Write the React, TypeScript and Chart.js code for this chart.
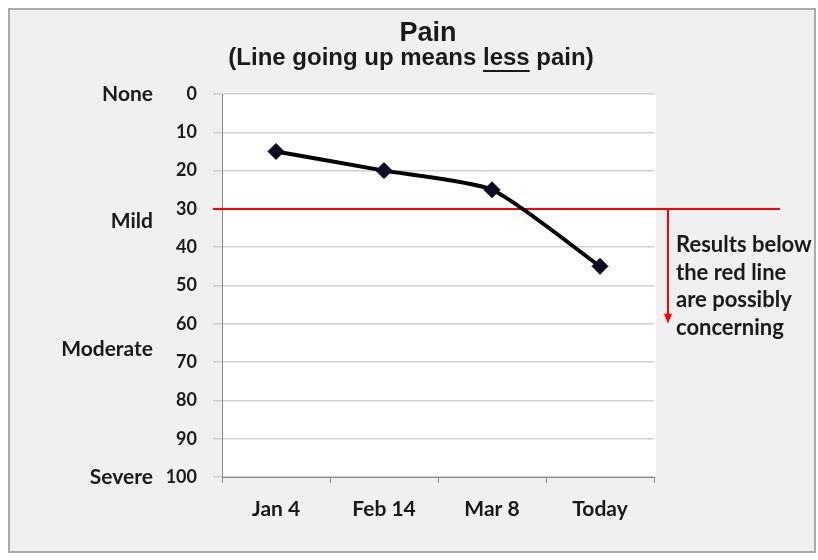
import React, { useEffect, useRef } from "react";
import { Chart, registerables } from "chart.js";

Chart.register(...registerables);

const CATEGORIES = ["Jan 4", "Feb 14", "Mar 8", "Today"];
const PAIN_SCORES = [15, 20, 25, 45];
const Y_MIN = 0;
const Y_MAX = 100;
const Y_STEP = 10;
const LEVEL_LABELS = ["None", "Mild", "Moderate", "Severe"];
const LEVEL_VALUES = [0, 33.3, 66.7, 100];
const THRESHOLD = 30;
const ARROW_END = 60;
const TITLE = "Pain";
const SUBTITLE_PARTS = ["(Line going up means ", "less", " pain)"];
const NOTE_LINES = ["Results below", "the red line", "are possibly", "concerning"];

const TEXT_COLOR = "#1a1a1a";
const AXIS_FONT = "Lato";
const TITLE_FONT = "Liberation Sans";

const overlayPlugin = {
  id: "overlay",
  beforeDraw(chart: any) {
    const { ctx, chartArea } = chart;
    ctx.save();
    ctx.fillStyle = "#ffffff";
    ctx.fillRect(chartArea.left, chartArea.top, chartArea.right - chartArea.left + 2, chartArea.bottom - chartArea.top);
    ctx.restore();
  },
  beforeDatasetsDraw(chart: any) {
    const { ctx, chartArea, scales } = chart;
    const y = scales.y;
    const yT = Math.round(y.getPixelForValue(THRESHOLD));
    const yA = y.getPixelForValue(ARROW_END);
    ctx.save();
    ctx.strokeStyle = "#ff0000";
    ctx.fillStyle = "#ff0000";
    ctx.lineWidth = 2;
    ctx.beginPath();
    ctx.moveTo(chartArea.left - 9, yT);
    ctx.lineTo(chartArea.right + 126, yT);
    ctx.stroke();
    const ax = chartArea.right + 14;
    ctx.beginPath();
    ctx.moveTo(ax, yT);
    ctx.lineTo(ax, yA - 8);
    ctx.stroke();
    ctx.beginPath();
    ctx.moveTo(ax - 4, yA - 10);
    ctx.lineTo(ax + 4, yA - 10);
    ctx.lineTo(ax, yA);
    ctx.closePath();
    ctx.fill();
    ctx.restore();
  },
  afterDraw(chart: any) {
    const { ctx, chartArea } = chart;
    ctx.save();
    ctx.fillStyle = TEXT_COLOR;
    ctx.textBaseline = "alphabetic";
    ctx.font = `bold 27px "${TITLE_FONT}"`;
    ctx.textAlign = "center";
    ctx.fillText(TITLE, 418, 31);
    ctx.font = `bold 24px "${TITLE_FONT}"`;
    ctx.textAlign = "left";
    const widths = SUBTITLE_PARTS.map((p) => ctx.measureText(p).width);
    const total = widths.reduce((a, b) => a + b, 0);
    let x = 401 - total / 2;
    SUBTITLE_PARTS.forEach((p, i) => {
      ctx.fillText(p, x, 55);
      if (i === 1) {
        ctx.fillRect(x, 60, widths[i], 2);
      }
      x += widths[i];
    });
    ctx.font = `bold 22px "${AXIS_FONT}"`;
    const nx = chartArea.right + 22;
    NOTE_LINES.forEach((line, i) => {
      ctx.fillText(line, nx, 242 + i * 27.5);
    });
    ctx.restore();
  },
};

export default function App() {
  const ref = useRef<HTMLCanvasElement | null>(null);
  useEffect(() => {
    document.body.style.margin = "0";
    if (!ref.current) return;
    const chart = new Chart(ref.current, {
      type: "line",
      data: {
        labels: CATEGORIES,
        datasets: [
          {
            data: PAIN_SCORES,
            borderColor: "#000000",
            borderWidth: 4,
            tension: 0.2,
            pointStyle: "rectRot",
            pointRadius: 8,
            pointBackgroundColor: "#0b0b24",
            pointBorderColor: "#0b0b24",
            pointBorderWidth: 1,
            fill: false,
          },
        ],
      },
      options: {
        animation: false,
        responsive: false,
        maintainAspectRatio: false,
        layout: { padding: { left: 43, right: 160, top: 84, bottom: 14 } },
        plugins: {
          legend: { display: false },
          tooltip: { enabled: false },
          title: { display: false },
        },
        scales: {
          x: {
            type: "category",
            offset: true,
            grid: {
              offset: true,
              drawOnChartArea: false,
              drawTicks: true,
              tickLength: 6,
              color: "#8a8a8a",
            },
            border: { color: "#8a8a8a", width: 1 },
            ticks: {
              color: TEXT_COLOR,
              padding: 14,
              font: { family: AXIS_FONT, size: 21, weight: "bold" },
            },
            afterFit(scale: any) {
              scale.height = 60;
            },
          },
          y: {
            position: "left",
            weight: 0,
            min: Y_MIN,
            max: Y_MAX,
            reverse: true,
            grid: { color: "#d0d0d0", lineWidth: 1.5, tickLength: 9 },
            border: { color: "#8a8a8a", width: 1 },
            ticks: {
              stepSize: Y_STEP,
              padding: 16,
              color: TEXT_COLOR,
              font: { family: AXIS_FONT, size: 18, weight: "bold" },
            },
            afterFit(scale: any) {
              scale.width = 69;
            },
          },
          y2: {
            position: "left",
            weight: 1,
            min: Y_MIN,
            max: Y_MAX,
            reverse: true,
            grid: { display: false },
            border: { display: false },
            afterBuildTicks(scale: any) {
              scale.ticks = LEVEL_VALUES.map((v) => ({ value: v }));
            },
            ticks: {
              padding: -8,
              autoSkip: false,
              color: TEXT_COLOR,
              font: { family: AXIS_FONT, size: 21, weight: "bold" },
              callback: (_v: any, i: number) => LEVEL_LABELS[i],
            },
            afterFit(scale: any) {
              scale.width = 100;
            },
          },
        },
      },
      plugins: [overlayPlugin],
    });
    return () => chart.destroy();
  }, []);
  return (
    <div
      style={{
        width: 818,
        height: 560,
        boxSizing: "border-box",
        paddingTop: 8,
        paddingLeft: 8,
        background: "#ffffff",
        overflow: "hidden",
      }}
    >
      <div
        style={{
          position: "relative",
          width: 804,
          height: 541,
          border: "2px solid #ababab",
          background: "#f0f0f0",
        }}
      >
        <canvas ref={ref} width={804} height={541} style={{ display: "block" }} />
      </div>
    </div>
  );
}
